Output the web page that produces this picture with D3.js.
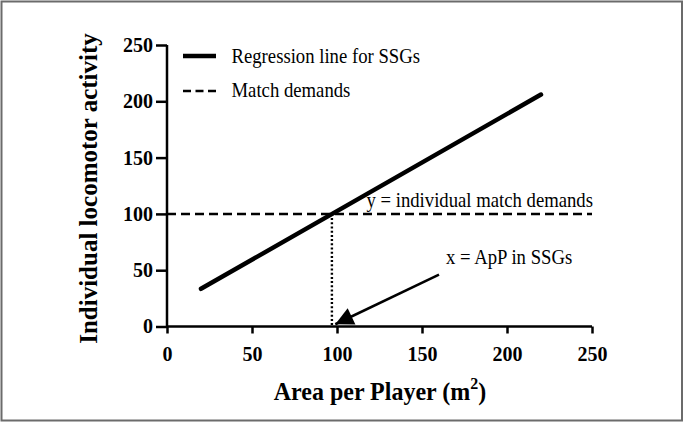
<!DOCTYPE html>
<html>
<head>
<meta charset="utf-8">
<script src="https://cdn.jsdelivr.net/npm/d3@7"></script>
<style>
  html, body { margin: 0; padding: 0; background: #fff; }
  svg { display: block; }
  text { font-family: "Liberation Serif", "Times New Roman", serif; fill: #000; }
</style>
</head>
<body>
<svg id="chart" width="685" height="423"></svg>
<script>
// ---- data ----
const xTicks = [0, 50, 100, 150, 200, 250];
const yTicks = [0, 50, 100, 150, 200, 250];
const regressionX = [20, 220];
const regressionY = [33.5, 206];
const matchDemandX = [0, 250];
const matchDemandY = [100, 100];
const intersectX = 97;
const intersectY = 100;
const arrowFrom = [160, 46];
const arrowTo = [99, 2];
const legendLabels = ["Regression line for SSGs", "Match demands"];
const xTitle = "Area per Player (m";
const yTitle = "Individual locomotor activity";
const noteY = "y = individual match demands";
const noteX = "x = ApP in SSGs";

// ---- layout ----
const svg = d3.select("#chart");
const x = d3.scaleLinear().domain([0, 250]).range([167, 592]);
const y = d3.scaleLinear().domain([0, 250]).range([326.5, 45]);
const VS = 1.08; // slight vertical stretch of glyphs seen in the reference

// frame
svg.append("rect").attr("x", 1.5).attr("y", 1.5).attr("width", 680.5).attr("height", 419)
  .attr("fill", "#fff").attr("stroke", "#6b6b6b").attr("stroke-width", 2);

// arrow marker
svg.append("defs").append("marker")
  .attr("id", "arrowhead").attr("viewBox", "0 0 10 10")
  .attr("refX", 10).attr("refY", 5)
  .attr("markerUnits", "userSpaceOnUse")
  .attr("markerWidth", 24).attr("markerHeight", 18)
  .attr("orient", "auto")
  .append("path").attr("d", "M0,0 L10,5 L0,10 Z").attr("fill", "#000");

// axes
const xAxis = d3.axisBottom(x).tickValues(xTicks).tickSize(7).tickPadding(13).tickFormat(d3.format("d"));
const yAxis = d3.axisLeft(y).tickValues(yTicks).tickSize(11).tickPadding(3).tickFormat(d3.format("d"));

const gx = svg.append("g").attr("transform", `translate(0,${y(0)})`).call(xAxis);
const gy = svg.append("g").attr("transform", `translate(${x(0)},0)`).call(yAxis);
[gx, gy].forEach(g => {
  g.select(".domain").attr("stroke", "#000").attr("stroke-width", 2.5);
  g.selectAll(".tick line").attr("stroke", "#000").attr("stroke-width", 2.5);
  g.selectAll(".tick text").attr("font-family", "'Liberation Serif', 'Times New Roman', serif")
    .attr("font-size", 20).attr("font-weight", "bold").attr("fill", "#000");
});
gx.select(".domain").attr("d", `M${x(0)},0H${x(250)}`);
gy.select(".domain").attr("d", `M0,${y(0)}V${y(250)}`);

// dashed match demand line
const line = d3.line().x(d => x(d[0])).y(d => y(d[1]));
svg.append("path")
  .datum(matchDemandX.map((v, i) => [v, matchDemandY[i]]))
  .attr("d", line).attr("fill", "none").attr("stroke", "#000")
  .attr("stroke-width", 2.5).attr("stroke-dasharray", "9,5");

// dotted vertical
svg.append("path")
  .datum([[intersectX, intersectY], [intersectX, 0]])
  .attr("d", line).attr("fill", "none").attr("stroke", "#000")
  .attr("stroke-width", 2.4).attr("stroke-dasharray", "2,2.2");

// regression line
svg.append("path")
  .datum(regressionX.map((v, i) => [v, regressionY[i]]))
  .attr("d", line).attr("fill", "none").attr("stroke", "#000")
  .attr("stroke-width", 4.5).attr("stroke-linecap", "round");

// arrow
svg.append("path")
  .datum([arrowFrom, arrowTo])
  .attr("d", line).attr("fill", "none").attr("stroke", "#000")
  .attr("stroke-width", 2.5).attr("marker-end", "url(#arrowhead)");

function label(px, py, txt, size) {
  return svg.append("text")
    .attr("transform", `translate(${px},${py}) scale(1,${VS})`)
    .attr("font-size", size).text(txt);
}

// annotations
label(366.5, 207, noteY, 18.7);
label(446, 263.5, noteX, 18.7);

// legend
const lg = svg.append("g");
lg.append("line").attr("x1", 183).attr("x2", 216).attr("y1", 56).attr("y2", 56)
  .attr("stroke", "#000").attr("stroke-width", 4.5);
lg.append("line").attr("x1", 183).attr("x2", 216).attr("y1", 91).attr("y2", 91)
  .attr("stroke", "#000").attr("stroke-width", 2.5).attr("stroke-dasharray", "8,4.5");
label(231.5, 63, legendLabels[0], 18.7);
label(231.5, 96.5, legendLabels[1], 18.7);

// axis titles
const xt = svg.append("text")
  .attr("transform", `translate(380,399.5) scale(1,${VS})`)
  .attr("text-anchor", "middle")
  .attr("font-size", 24).attr("font-weight", "bold");
xt.append("tspan").text(xTitle);
xt.append("tspan").attr("font-size", 16).attr("dy", -10).text("2");
xt.append("tspan").attr("dy", 10).text(")");

svg.append("text").attr("transform", "translate(97,188.5) rotate(-90)")
  .attr("text-anchor", "middle").attr("font-size", 25).attr("font-weight", "bold").text(yTitle);
</script>
</body>
</html>
